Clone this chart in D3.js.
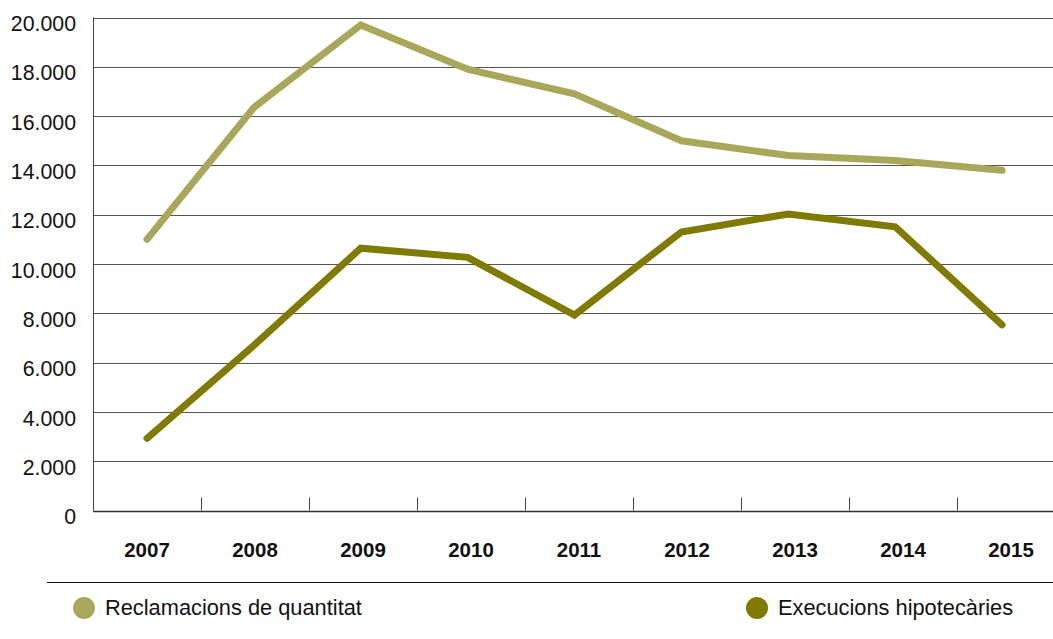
<!DOCTYPE html>
<html>
<head>
<meta charset="utf-8">
<script src="https://cdn.jsdelivr.net/npm/d3@7"></script>
<style>
  body { margin: 0; background: #fff; }
  svg { display: block; font-family: "Liberation Sans", Arial, Helvetica, sans-serif; }
</style>
</head>
<body>
<div id="chart"></div>
<script>
// data
const years = ["2007", "2008", "2009", "2010", "2011", "2012", "2013", "2014", "2015"];
const reclamacions = [11000, 16350, 19700, 17900, 16900, 15000, 14400, 14200, 13800];
const execucions = [2930, 6700, 10640, 10270, 7930, 11300, 12030, 11510, 7530];
const yTicks = [0, 2000, 4000, 6000, 8000, 10000, 12000, 14000, 16000, 18000, 20000];
const seriesNames = ["Reclamacions de quantitat", "Execucions hipotecàries"];
const seriesColors = ["#a9a85a", "#7f7a00"];

const width = 1053, height = 639;
const margin = { top: 18, right: 0, bottom: 129, left: 93 };

const svg = d3.select("#chart")
    .append("svg")
        .attr("width", width)
        .attr("height", height);

// band scale for the category axis (ticks between years)
const x = d3.scaleBand()
    .domain(years)
    .range([margin.left, margin.left + 108 * years.length]);

// the plotted points sit a little tighter than the category bands
const xp = d3.scalePoint()
    .domain(years)
    .range([x("2007") + x.bandwidth() / 2, 1002]);

const y = d3.scaleLinear()
    .domain([0, 20000])
    .range([height - margin.bottom + 0.5, margin.top - 0.5]);

const fmt = d => d === 0 ? "0" : d3.format(",")(d).replace(/,/g, ".");

// gridlines
svg.append("g")
    .selectAll("line")
    .data(yTicks.filter(d => d > 0))
    .enter()
    .append("line")
        .attr("x1", margin.left)
        .attr("x2", width)
        .attr("y1", d => Math.round(y(d)) + 0.5)
        .attr("y2", d => Math.round(y(d)) + 0.5)
        .attr("stroke", "#555")
        .attr("stroke-width", 1);

// y labels
svg.append("g")
    .selectAll("text")
    .data(yTicks)
    .enter()
    .append("text")
        .attr("x", 76)
        .attr("y", d => y(d) + 8)
        .attr("text-anchor", "end")
        .attr("dominant-baseline", "middle")
        .attr("font-size", 21.3)
        .attr("fill", "#111")
        .text(fmt);

// left axis line
svg.append("line")
    .attr("x1", margin.left + 0.5)
    .attr("x2", margin.left + 0.5)
    .attr("y1", y(20000))
    .attr("y2", y(0))
    .attr("stroke", "#444");

// bottom axis with ticks between categories
const xAxis = svg.append("g");
xAxis.append("line")
    .attr("x1", margin.left)
    .attr("x2", width)
    .attr("y1", Math.round(y(0)) + 0.5)
    .attr("y2", Math.round(y(0)) + 0.5)
    .attr("stroke", "#333")
    .attr("stroke-width", 1.5);

xAxis.selectAll(".tick")
    .data(years)
    .enter()
    .append("line")
        .attr("x1", d => Math.round(x(d) + x.bandwidth()) + 0.5)
        .attr("x2", d => Math.round(x(d) + x.bandwidth()) + 0.5)
        .attr("y1", y(0) - 13)
        .attr("y2", y(0))
        .attr("stroke", "#444");

xAxis.selectAll(".lbl")
    .data(years)
    .enter()
    .append("text")
        .attr("x", d => x(d) + x.bandwidth() / 2)
        .attr("y", 552)
        .attr("text-anchor", "middle")
        .attr("dominant-baseline", "middle")
        .attr("font-size", 20.5)
        .attr("font-weight", "bold")
        .attr("fill", "#111")
        .text(d => d);

// lines
const line = d3.line()
    .x((d, i) => xp(years[i]))
    .y(d => y(d));

[reclamacions, execucions].forEach((vals, k) => {
    svg.append("path")
        .datum(vals)
        .attr("d", line)
        .attr("fill", "none")
        .attr("stroke", seriesColors[k])
        .attr("stroke-width", 7)
        .attr("stroke-linecap", "round")
        .attr("stroke-linejoin", "miter");
});

// separator above legend
svg.append("line")
    .attr("x1", 47)
    .attr("x2", width)
    .attr("y1", 582.5)
    .attr("y2", 582.5)
    .attr("stroke", "#111")
    .attr("stroke-width", 1);

// legend
const legendX = [84, 757];
const legend = svg.append("g")
    .selectAll("g")
    .data(seriesNames)
    .enter()
    .append("g")
        .attr("transform", (d, i) => `translate(${legendX[i]},608)`);

legend.append("circle")
    .attr("r", 11)
    .attr("fill", (d, i) => seriesColors[i]);

legend.append("text")
    .attr("x", 21)
    .attr("y", 1)
    .attr("dominant-baseline", "middle")
    .attr("font-size", 21.8)
    .attr("fill", "#111")
    .text(d => d);
</script>
</body>
</html>
